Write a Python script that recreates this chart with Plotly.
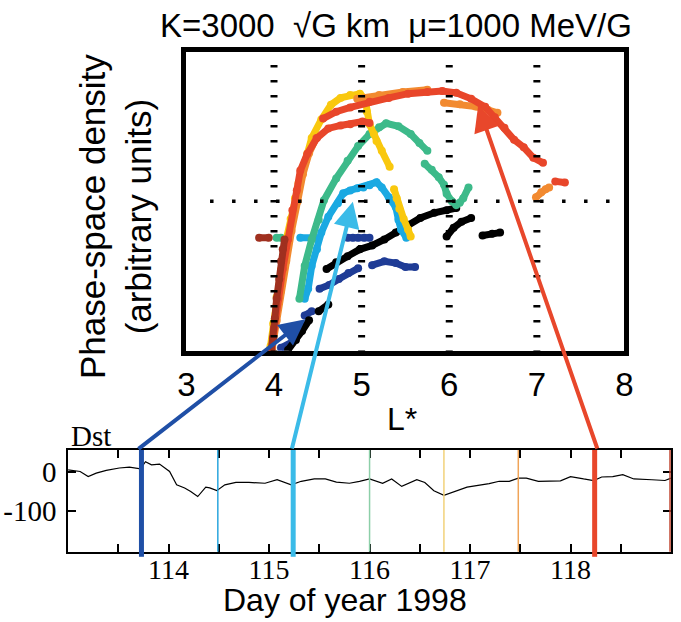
import plotly.graph_objects as go

# ---------------- data ----------------
# Top panel: phase-space density (arbitrary units, 0-10) vs L*
DARKBLUE_L = [4.08, 4.21, None, 4.35, 4.43, None, 4.52, 4.63, 4.74, 4.85, 4.96, None,
              5.12, 5.26, 5.39, 5.50, 5.61, None, 4.84, 4.90, 4.96, 5.03, 5.09]
DARKBLUE_P = [0.10, 0.30, None, 1.18, 1.32, None, 2.07, 2.20, 2.40, 2.60, 2.76, None,
              2.86, 2.99, 2.93, 2.80, 2.80, None, 3.78, 3.78, 3.78, 3.78, 3.78]

BLACK_L = [4.16, 4.25, 4.32, 4.40, None, 4.51, 4.62, None, 4.60, 4.71, 4.84, 4.98, 5.12,
           5.26, 5.39, 5.53, 5.67, 5.83, 5.97, 6.08, None, 5.97, 6.05, 6.14, 6.25, None,
           6.38, 6.49, 6.58]
BLACK_P = [0.03, 0.36, 0.66, 1.02, None, 1.32, 1.55, None, 2.73, 2.96, 3.16, 3.39, 3.52,
           3.72, 3.95, 4.21, 4.44, 4.61, 4.70, 4.77, None, 3.82, 4.11, 4.31, 4.44, None,
           3.85, 3.91, 3.95]

CYAN_L = [4.35, 4.39, 4.43, 4.49, 4.54, 4.62, 4.73, 4.79, 4.87, 4.95, 5.02, 5.09, 5.17,
          5.23, 5.31, 5.39, 5.42, 5.45, 5.51, None, 4.30, 4.47]
CYAN_P = [1.74, 2.07, 2.83, 3.39, 3.95, 4.48, 4.93, 5.26, 5.36, 5.43, 5.46, 5.53, 5.63,
          5.46, 5.13, 4.80, 4.38, 4.05, 3.78, None, 3.78, 3.78]

GREEN_L = [4.29, 4.35, 4.43, 4.51, 4.57, 4.71, 4.84, 4.96, 5.09, 5.20, 5.28, 5.42, 5.56,
           5.66, 5.75, None, 5.72, 5.80, 5.88, 5.94, 5.97, 6.03, 6.08, 6.12, 6.16, 6.22,
           None, 4.03, 4.08]
GREEN_P = [1.74, 2.83, 3.72, 4.38, 5.03, 5.76, 6.35, 6.84, 7.24, 7.47, 7.60, 7.50, 7.24,
           6.94, 6.68, None, 6.25, 6.05, 5.80, 5.55, 5.25, 5.00, 4.87, 4.95, 5.10, 5.46,
           None, 3.78, 3.78]

YELLOW_L = [3.96, 3.99, 4.03, 4.08, 4.13, 4.19, 4.24, 4.28, 4.32, 4.38, 4.43, 4.54, 4.65,
            4.76, 4.87, 4.98, 5.04, 5.06, 5.09, 5.14, 5.17, 5.23, 5.32, None,
            5.37, 5.40, 5.43, 5.48, 5.53, 5.56]
YELLOW_P = [0.15, 0.90, 1.80, 2.70, 3.60, 4.40, 5.10, 5.60, 6.02, 6.58, 7.11, 7.73, 8.22,
            8.45, 8.55, 8.59, 8.42, 7.99, 7.57, 7.24, 7.01, 6.68, 6.15, None,
            5.40, 5.10, 4.75, 4.40, 4.05, 3.82]

ORANGE_L = [3.98, 4.03, 4.08, 4.14, 4.20, 4.27, 4.33, 4.40, 4.48, None, 4.95, 5.20, 5.47,
            5.75, None, 5.94, 6.12, 6.30, 6.44, 6.55, None, 6.99, 7.05, 7.10, 7.14]
ORANGE_P = [0.10, 1.00, 2.00, 3.00, 4.00, 5.00, 5.90, 6.60, 7.10, None, 8.42, 8.55, 8.65,
            8.72, None, 8.29, 8.24, 8.16, 8.05, 7.95, None, 5.13, 5.30, 5.40, 5.46]

RED_L = [3.97, 4.00, 4.05, 4.10, 4.16, 4.21, 4.26, 4.30, 4.38, 4.49, 4.62, 4.76, 4.87,
         5.01, 5.09, None, 4.56, 4.71, 4.87, 5.09, 5.31, 5.53, 5.75, 5.92, 6.08, 6.25,
         6.41, 6.52, 6.63, 6.74, 6.85, 6.96, 7.07, None, 7.21, 7.32]
RED_P = [0.03, 0.76, 1.74, 2.73, 3.72, 4.70, 5.36, 6.02, 6.58, 7.11, 7.43, 7.53, 7.57,
         7.66, 7.61, None, 7.76, 7.99, 8.13, 8.32, 8.45, 8.59, 8.65, 8.68, 8.62, 8.42,
         8.15, 7.80, 7.45, 7.05, 6.80, 6.45, 6.28, None, 5.66, 5.62]

DARKRED_L = [3.97, 3.99, 4.01, 4.03, 4.06, 4.08, 4.10, 4.12, None, 3.83, 3.94]
DARKRED_P = [0.03, 0.43, 1.09, 1.74, 2.40, 2.99, 3.39, 3.72, None, 3.78, 3.78]

SERIES = [
    ("#1f3c96", DARKBLUE_L, DARKBLUE_P),
    ("#000000", BLACK_L, BLACK_P),
    ("#1aa9e2", CYAN_L, CYAN_P),
    ("#3dba8a", GREEN_L, GREEN_P),
    ("#f9c80e", YELLOW_L, YELLOW_P),
    ("#f28a30", ORANGE_L, ORANGE_P),
    ("#e8462a", RED_L, RED_P),
    ("#a0301f", DARKRED_L, DARKRED_P),
]

# Bottom panel: Dst index vs day of year 1998
DST_DAY = [113.00, 113.12, 113.20, 113.28, 113.38, 113.51, 113.61, 113.72, 113.77, 113.83,
           113.91, 114.01, 114.08, 114.16, 114.22, 114.29, 114.37, 114.41, 114.48, 114.56,
           114.67, 114.80, 114.96, 115.08, 115.22, 115.32, 115.45, 115.56, 115.67, 115.80,
           115.90, 116.00, 116.13, 116.22, 116.32, 116.47, 116.55, 116.64, 116.74, 116.84,
           116.97, 117.19, 117.29, 117.39, 117.48, 117.56, 117.68, 117.90, 118.00, 118.13,
           118.23, 118.31, 118.42, 118.52, 118.63, 118.81, 118.94, 119.00]
DST_NT = [4, 0, -13, -4, 3, 9, 11, 7, 25, 17,
          19, 0, -34, -42, -51, -64, -40, -42, -49, -34,
          -28, -28, -30, -21, -34, -25, -19, -19, -27, -30,
          -25, -19, -30, -19, -38, -21, -28, -49, -61, -51,
          -40, -31, -25, -25, -17, -17, -25, -24, -13, -19,
          -23, -14, -13, -8, -19, -21, -23, -17]

SNAP_DAYS = [113.73, 114.49, 115.24, 116.00, 116.74, 117.48, 118.24, 118.99]
SNAP_COLORS = ["#1f4fa6", "#2ba6de", "#3bbbe8", "#8ccfa8", "#f2d27a", "#f0a458",
               "#e8472b", "#c0442e"]
SNAP_THICK = [True, False, True, False, False, False, True, False]

ARROW_DAYS = [113.73, 115.24, 118.24]
ARROW_TIP_L = [4.36, 4.90, 6.33]
ARROW_TIP_P = [1.05, 4.98, 8.20]
ARROW_COLORS = ["#1f4fa6", "#3bbbe8", "#e8472b"]

X_TICKS_TOP = [3, 4, 5, 6, 7, 8]
DAY_TICKS = [113.5, 114, 114.5, 115, 115.5, 116, 116.5, 117, 117.5, 118, 118.5]
DAY_LABELS = ["" if d % 1 else str(int(d)) for d in DAY_TICKS]

# ---------------- layout geometry ----------------
W, H = 681, 622
TOP_X = (182.2, 632.2)   # px
TOP_Y = (51.5, 350.8)    # px (top, bottom)
BOT_X = (60.7, 680.0)
BOT_Y = (450.0, 551.7)
L_RANGE = (3, 8)
P_RANGE = (0, 10)
D_RANGE = (113, 119)
DST_RANGE = (-205, 55)


def dom_x(px):
    return [px[0] / W, px[1] / W]


def dom_y(py):
    return [1 - py[1] / H, 1 - py[0] / H]


def top_px(L, P):
    x = TOP_X[0] + (L - L_RANGE[0]) / (L_RANGE[1] - L_RANGE[0]) * (TOP_X[1] - TOP_X[0])
    y = TOP_Y[1] - (P - P_RANGE[0]) / (P_RANGE[1] - P_RANGE[0]) * (TOP_Y[1] - TOP_Y[0])
    return x, y


def bot_px(day):
    return BOT_X[0] + (day - D_RANGE[0]) / (D_RANGE[1] - D_RANGE[0]) * (BOT_X[1] - BOT_X[0])


fig = go.Figure()

for color, xs, ys in SERIES:
    fig.add_trace(go.Scatter(
        x=xs, y=ys, mode="lines+markers", xaxis="x", yaxis="y",
        line=dict(color=color, width=7), marker=dict(color=color, size=8),
        connectgaps=False, hoverinfo="skip", showlegend=False))

fig.add_trace(go.Scatter(
    x=DST_DAY, y=DST_NT, mode="lines", xaxis="x2", yaxis="y2",
    line=dict(color="black", width=1.2), hoverinfo="skip", showlegend=False))

shapes = []
# dotted guide lines in the top panel
for L in [4, 5, 6, 7]:
    shapes.append(dict(type="line", xref="x", yref="y", x0=L, x1=L, y0=P_RANGE[1] - 0.45,
                       y1=P_RANGE[0], line=dict(color="black", width=7, dash="2.5px,12.5px")))
shapes.append(dict(type="line", xref="x", yref="y", x0=3.27, x1=8, y0=5, y1=5,
                   line=dict(color="black", width=3.5, dash="3.5px,18.5px")))
# snapshot time markers in the bottom panel
for d, c, thick in zip(SNAP_DAYS, SNAP_COLORS, SNAP_THICK):
    shapes.append(dict(type="line", xref="x2", yref="y2 domain", x0=d, x1=d,
                       y0=-0.05 if thick else 0, y1=1,
                       line=dict(color=c, width=5 if thick else 1.5)))

annotations = []
for d, L, P, c in zip(ARROW_DAYS, ARROW_TIP_L, ARROW_TIP_P, ARROW_COLORS):
    tx, ty = top_px(L, P)
    sx, sy = bot_px(d), BOT_Y[0]
    annotations.append(dict(x=L, y=P, xref="x", yref="y", axref="pixel", ayref="pixel",
                            ax=sx - tx, ay=sy - ty, text="", showarrow=True,
                            arrowhead=2, arrowsize=1.3, arrowwidth=4, arrowcolor=c,
                            standoff=0))

SANS = "Liberation Sans, Arial, sans-serif"
SERIF = "Liberation Serif, Times New Roman, serif"

annotations += [
    dict(text="K=3000\u00a0\u00a0\u221aG km\u00a0\u00a0\u03bc=1000 MeV/G", x=397 / W, y=1 - 25 / H,
         xref="paper", yref="paper", showarrow=False, xanchor="center", yanchor="middle",
         font=dict(family=SANS, size=33, color="black")),
    dict(text="Phase-space density<br>(arbitrary units)", x=110 / W, y=1 - 217 / H,
         xref="paper", yref="paper", showarrow=False, textangle=-90,
         xanchor="center", yanchor="middle", font=dict(family=SANS, size=35, color="black")),
    dict(text="L*", x=404 / W, y=1 - 419 / H, xref="paper", yref="paper", showarrow=False,
         xanchor="center", yanchor="middle", font=dict(family=SANS, size=32, color="black")),
    dict(text="Dst", x=84 / W, y=1 - 436 / H, xref="paper", yref="paper", showarrow=False,
         xanchor="center", yanchor="middle", font=dict(family=SERIF, size=29, color="black")),
    dict(text="Day of year 1998", x=345 / W, y=1 - 600 / H, xref="paper", yref="paper",
         showarrow=False, xanchor="center", yanchor="middle",
         font=dict(family=SANS, size=32, color="black")),
]

fig.update_layout(
    width=W, height=H, margin=dict(l=0, r=0, t=0, b=0),
    paper_bgcolor="white", plot_bgcolor="white", showlegend=False,
    xaxis=dict(domain=dom_x(TOP_X), range=list(L_RANGE), anchor="y",
               showline=True, linecolor="black", linewidth=5, mirror=True,
               ticks="", tickvals=X_TICKS_TOP, tickfont=dict(family=SANS, size=33, color="black"),
               showgrid=False, zeroline=False, ticklabelstandoff=1),
    yaxis=dict(domain=dom_y(TOP_Y), range=list(P_RANGE), anchor="x",
               showline=True, linecolor="black", linewidth=5, mirror=True,
               ticks="", showticklabels=False, showgrid=False, zeroline=False),
    xaxis2=dict(domain=dom_x(BOT_X), range=list(D_RANGE), anchor="y2",
                showline=True, linecolor="black", linewidth=1.5, mirror="ticks",
                ticks="inside", ticklen=8, tickwidth=1.5, tickcolor="black",
                tickvals=DAY_TICKS, ticktext=DAY_LABELS,
                tickfont=dict(family=SERIF, size=28, color="black"),
                showgrid=False, zeroline=False, ticklabelstandoff=-8),
    yaxis2=dict(domain=dom_y(BOT_Y), range=list(DST_RANGE), anchor="x2",
                showline=True, linecolor="black", linewidth=1.5, mirror="ticks",
                ticks="inside", ticklen=8, tickwidth=1.5, tickcolor="black",
                tickvals=[0, -100], ticktext=["0", "-100"],
                tickfont=dict(family=SERIF, size=29, color="black"),
                showgrid=False, zeroline=False, ticklabelstandoff=4),
    shapes=shapes, annotations=annotations,
)

fig.write_html("out.html")
